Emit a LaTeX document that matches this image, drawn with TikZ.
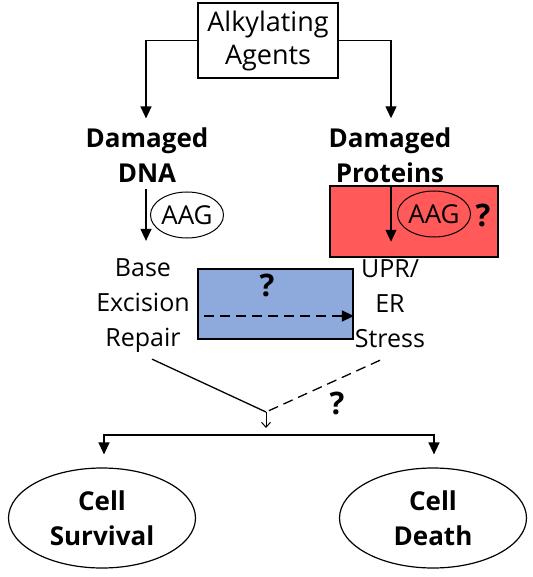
\documentclass[tikz,border=0pt]{standalone}
\usepackage{fontspec}
\setmainfont{Open Sans}
\usetikzlibrary{arrows.meta,shapes.geometric}
\definecolor{redfill}{RGB}{255,89,89}
\definecolor{bluefill}{RGB}{142,169,219}
\begin{document}
\begin{tikzpicture}[x=1pt,y=-1pt,
  txt/.style={font=\fontsize{25}{35}\selectfont, align=center, inner sep=0pt},
  btxt/.style={font=\bfseries\fontsize{26}{35}\selectfont, align=center, inner sep=0pt},
  qmark/.style={font=\bfseries\fontsize{31}{34}\selectfont, inner sep=0pt},
  conn/.style={line width=1.3pt},
  arr/.style={-{Triangle[length=12pt,width=11pt]}, line width=1.3pt},
  openarr/.style={-{Straight Barb[length=5pt,width=9pt]}, line width=1pt},
  dashline/.style={dash pattern=on 10pt off 6pt},
  outcome/.style={ellipse, draw, line width=1.2pt, minimum width=187pt, minimum height=100pt, inner sep=0pt, font=\bfseries\fontsize{26}{35}\selectfont, align=center},
  enzyme/.style={ellipse, draw, line width=1pt, minimum width=73pt, minimum height=46pt, inner sep=0pt, font=\fontsize{26}{30}\selectfont}
]
\useasboundingbox (0,0) rectangle (532,577);
% top box
\node[draw, line width=1.5pt, minimum width=140pt, minimum height=75pt, inner sep=0pt,
      font=\fontsize{27}{33}\selectfont, align=center] (agents) at (268,40.5) {Alkylating\\Agents};
% damaged nodes
\node[btxt] (ddna) at (147,155) {Damaged\\DNA};
\node[btxt] (dprot) at (390,155) {Damaged\\Proteins};
% coloured boxes
\node[draw, line width=1.8pt, fill=redfill, minimum width=168pt, minimum height=71pt, inner sep=0pt] (redbox) at (414,221.5) {};
\node[draw, line width=1.8pt, fill=bluefill, minimum width=155pt, minimum height=70pt, inner sep=0pt] (bluebox) at (275.5,304) {};
% pathway texts
\node[txt] (ber) at (143,306) {Base\\Excision\\Repair};
\node[txt] (upr) at (390,304) {UPR/\\ER\\Stress};
% enzymes
\node[enzyme] (aag1) at (187,215) {AAG};
\node[enzyme] (aag2) at (434,214) {AAG};
\node[qmark] (q1) at (483,215) {?};
\node[qmark] (q2) at (267,285) {?};
\node[qmark] (q3) at (337,403) {?};
% outcomes
\node[outcome] (surv) at (102,518) {Cell\\Survival};
\node[outcome] (death) at (433,518) {Cell\\Death};
% arrows from agents
\draw[arr, shorten >=9pt] (agents.west) -| ([xshift=-1pt]ddna.north);
\draw[arr, shorten >=9pt] (agents.east) -| ([xshift=1pt]dprot.north);
% AAG arrows
\draw[arr, shorten <=6pt, shorten >=18pt] ([xshift=-1pt]ddna.south) -- ([xshift=-1pt]ddna.south |- ber.north);
\draw[arr, shorten >=18pt] ([xshift=1pt]dprot.south |- redbox.north) -- ([xshift=1pt]dprot.south |- upr.north);
% dashed arrow in blue box
\draw[arr, dashline] ([xshift=7pt,yshift=-12pt]bluebox.west) -- ([yshift=-12pt]bluebox.east);
% convergence
\coordinate (j) at (266,412);
\coordinate (bar) at (266,435);
\draw[conn] ([xshift=9pt,yshift=-6pt]ber.south) -- (j);
\draw[conn, dashline] ([xshift=-10pt,yshift=-12pt]upr.south) -- (j);
\draw[openarr] (j) -- ([yshift=7pt]bar);
\draw[arr, shorten >=13pt] (bar) -| ([xshift=2pt]surv.north);
\draw[arr, shorten >=13pt] (bar) -| ([xshift=1pt]death.north);
\end{tikzpicture}
\end{document}
